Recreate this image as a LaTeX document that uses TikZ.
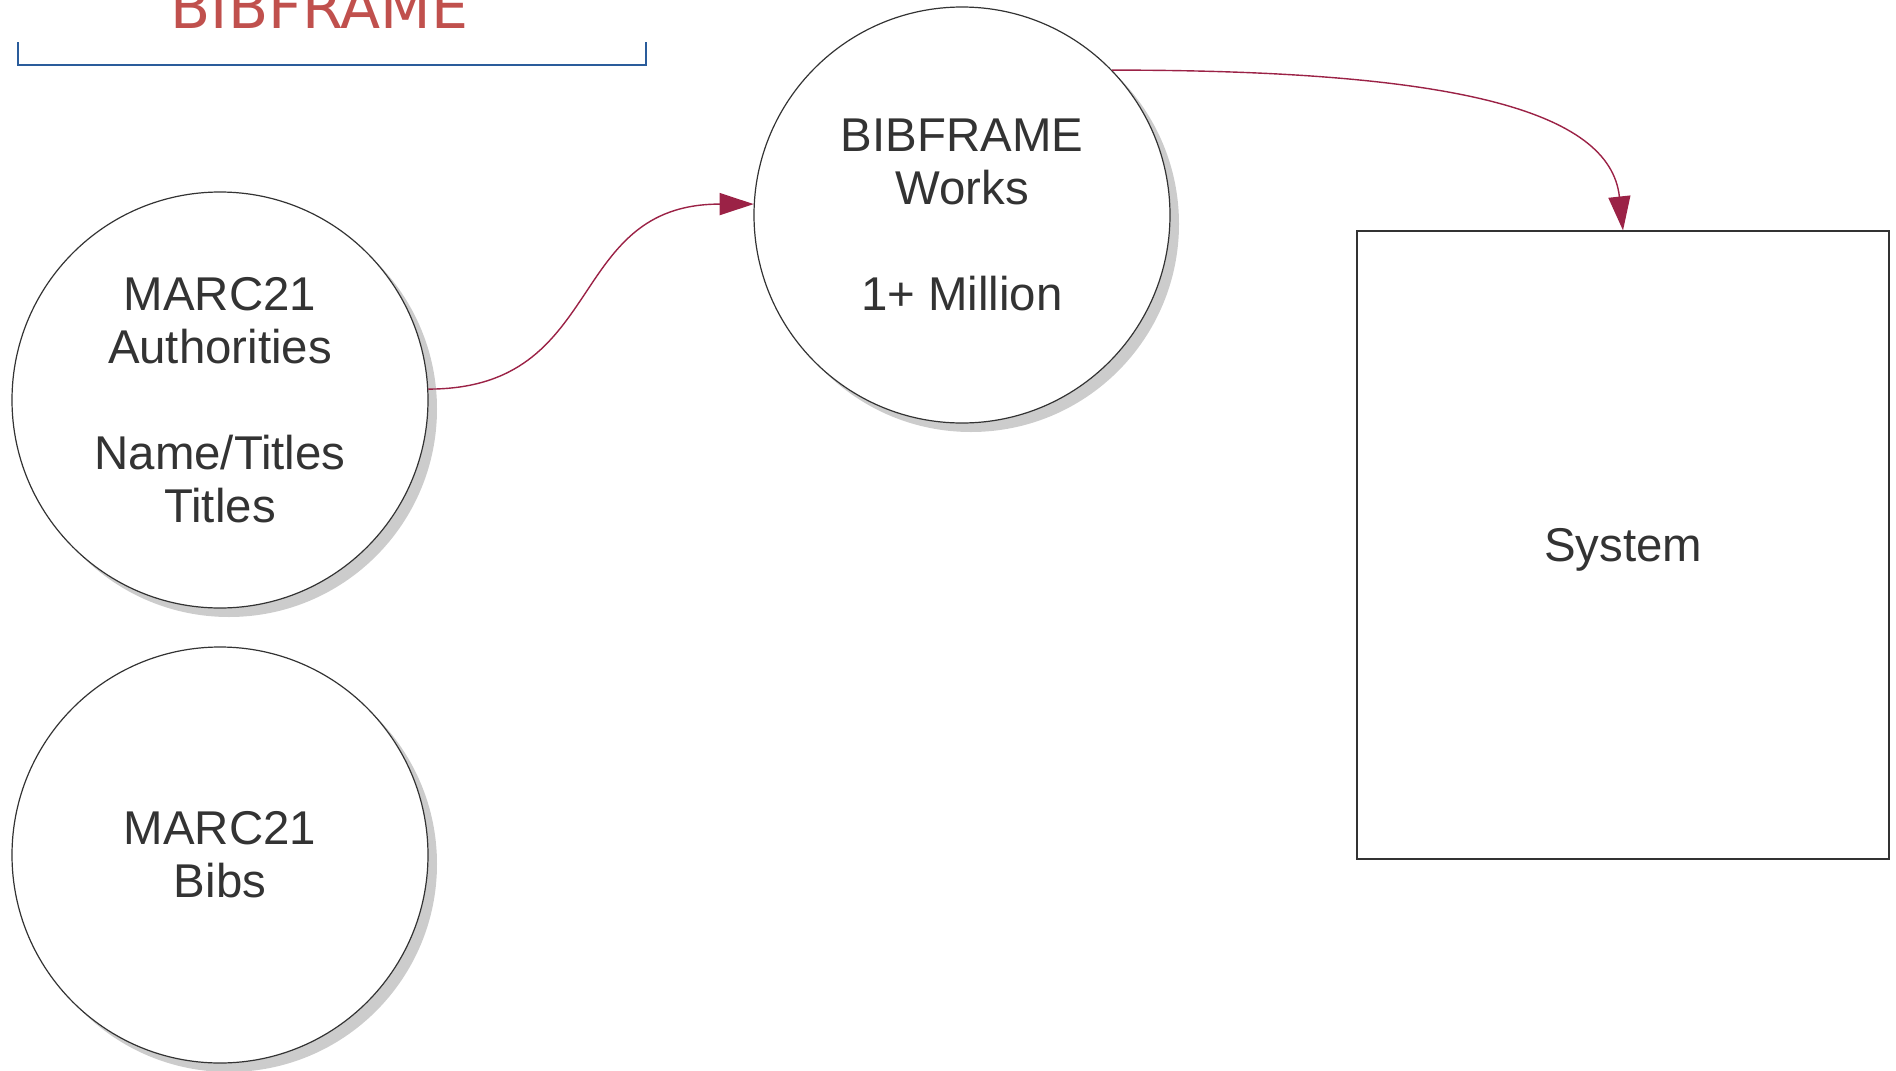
\documentclass[tikz,border=0pt]{standalone}
\usepackage{fontspec}
\setmainfont{Liberation Sans}
\newfontfamily\titlefont{DejaVu Sans}
\usetikzlibrary{arrows.meta,shadows}
\definecolor{txtgray}{HTML}{333333}
\definecolor{linkred}{HTML}{9B2246}
\definecolor{titlered}{HTML}{C0504D}
\definecolor{brackblue}{HTML}{2A5C9B}

\begin{document}
\begin{tikzpicture}[x=0.5pt,y=-0.5pt,
  circ/.style = {draw=txtgray, line width=0.6pt, circle, fill=white, minimum size=208pt, inner sep=0pt, align=center, text=txtgray,
    font=\fontsize{23.7pt}{26.5pt}\selectfont,
    drop shadow={shadow xshift=4.5pt, shadow yshift=-4.5pt, fill=black!20, opacity=1}},
  box/.style = {draw=txtgray, line width=0.6pt, rectangle, minimum width=266pt, minimum height=314pt, inner sep=0pt, text=txtgray,
    text depth=0pt, font=\fontsize{23.7pt}{26.5pt}\selectfont},
  link/.style = {draw=linkred, line width=0.7pt, -{Triangle[length=17pt,width=11pt]}}]
\useasboundingbox (0,0) rectangle (1896,1071);
\node[anchor=base, text=titlered, font=\titlefont\fontsize{29.3pt}{35pt}\selectfont] (title) at (319.5,28) {BIBFRAME};
\draw[brackblue, line width=1pt] (18,42) |- (646,65) -- (646,42);
\node[circ] (auth) at (220,400) {MARC21\\Authorities\\[26.5pt]Name/Titles\\Titles};
\node[circ] (bibs) at (220,855) {MARC21\\Bibs};
\node[circ] (works) at (962,215) {BIBFRAME\\Works\\[26.5pt]1+ Million};
\node[box] (system) at (1623,545) {System};
\draw[link] (auth.3) .. controls +(180,0) and +(-190,0) .. (works.177);
\draw[link] (works.44) .. controls +(338,0) and +(-13,-121) .. (system.north);
\end{tikzpicture}
\end{document}
